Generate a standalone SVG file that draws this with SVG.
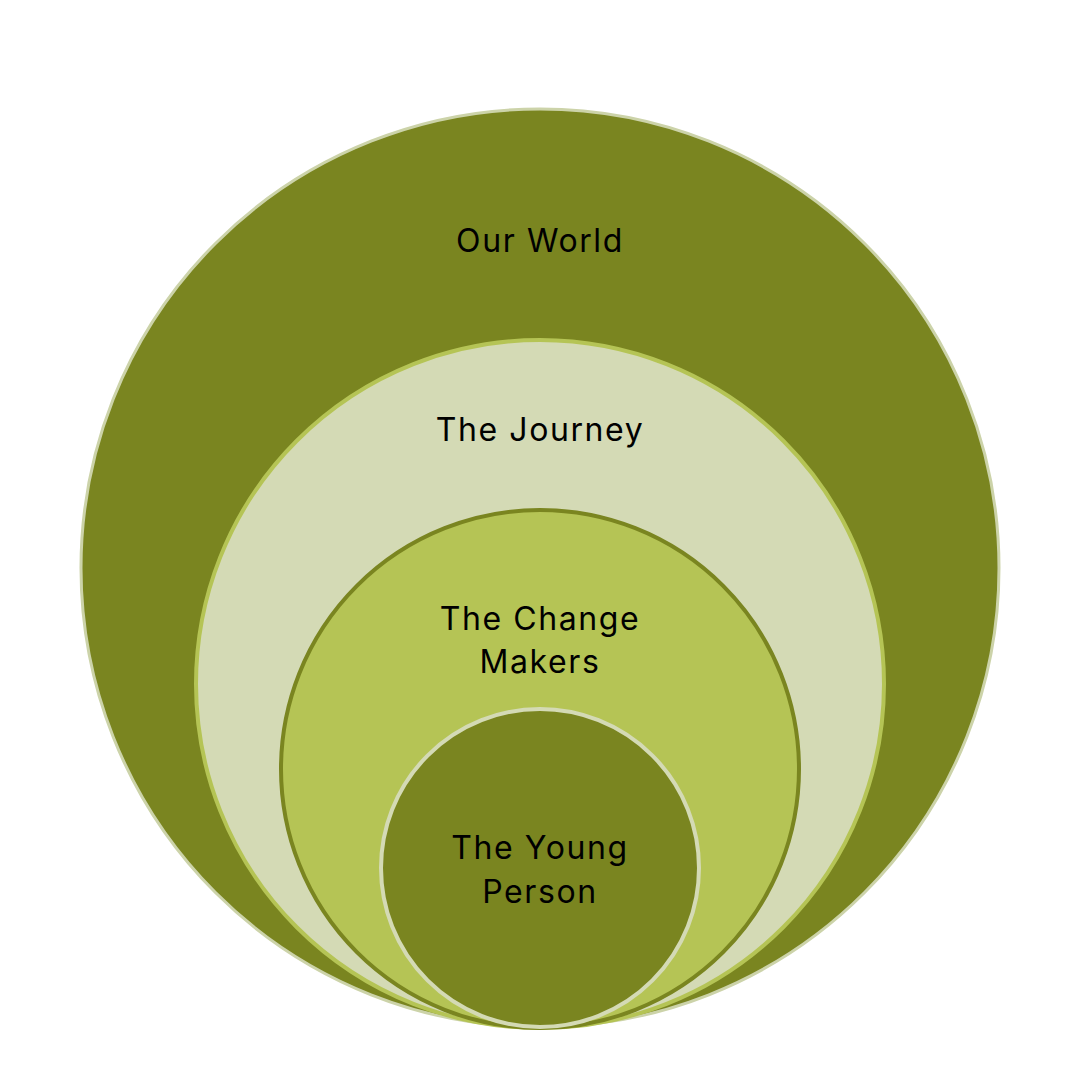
<svg xmlns="http://www.w3.org/2000/svg" width="1080" height="1080" viewBox="0 0 1080 1080">
<style>
text{font-family:Inter,"Noto Sans","Liberation Sans",sans-serif;font-size:32px;fill:#000;text-anchor:middle;letter-spacing:1.6px}
</style>
<rect width="1080" height="1080" fill="#fff"/>
<g id="our-world">
<circle cx="540" cy="568" r="459" fill="#7a8520" stroke="#ccd3a9" stroke-width="3"/>
<text x="540" y="252">Our World</text>
</g>
<g id="the-journey">
<circle cx="540" cy="684" r="344" fill="#d4dab5" stroke="#b5c455" stroke-width="4"/>
<text x="540" y="441">The Journey</text>
</g>
<g id="the-change-makers">
<circle cx="540" cy="769" r="259" fill="#b5c455" stroke="#7a8520" stroke-width="4"/>
<text x="540" y="630">The Change</text>
<text x="540" y="673">Makers</text>
</g>
<g id="the-young-person">
<circle cx="540" cy="868" r="159" fill="#7a8520" stroke="#d4dab5" stroke-width="4"/>
<text x="540" y="859">The Young</text>
<text x="540" y="903">Person</text>
</g>
<g id="connectors"/>
</svg>
